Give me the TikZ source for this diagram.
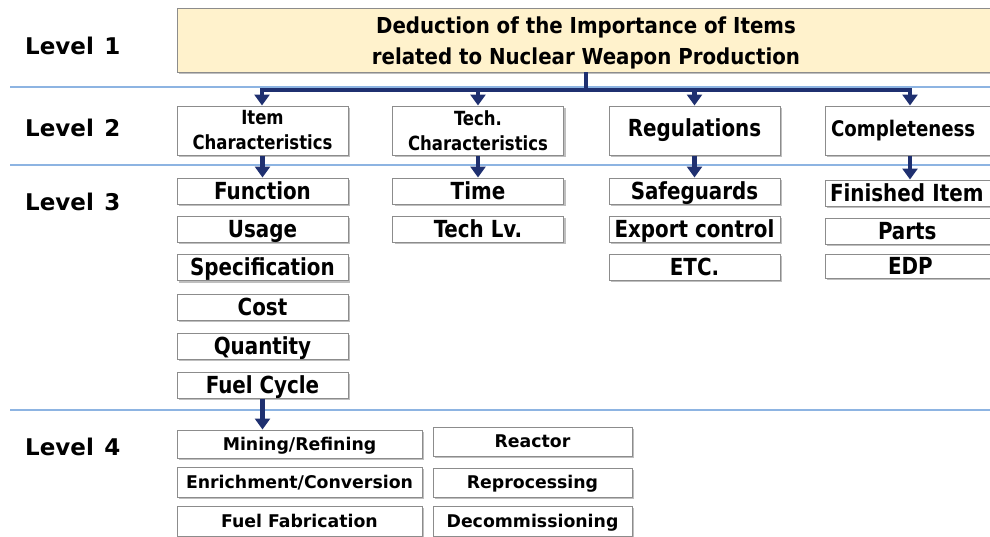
\documentclass[tikz,border=0pt]{standalone}
\usepackage{fontspec}
\usepackage{graphicx}
\setmainfont{DejaVu Sans}
\newfontfamily\cf{DejaVu Sans Condensed}
\newfontfamily\lf{DejaVu Sans}
\usetikzlibrary{arrows.meta,shadows}
\definecolor{navy}{HTML}{1F3070}
\definecolor{sep}{HTML}{8DB4E2}
\definecolor{peach}{HTML}{FFF2CC}
\definecolor{bord}{HTML}{8C8C8C}
\newcommand\nx[1]{\scalebox{0.94}[1]{#1}}
\newcommand\wx[1]{\scalebox{1.1}[1]{#1}}
\tikzset{
  box/.style={draw=bord, line width=1pt, fill=white, inner sep=0pt, align=center,
    drop shadow={shadow xshift=2pt, shadow yshift=-2pt, fill=black!25, opacity=1}, font=\cf\bfseries},
  wA/.style={minimum width=171pt},
  hS/.style={minimum height=26pt},
  hL/.style={minimum height=49pt},
  lvl/.style={font=\lf\bfseries\fontsize{23}{26}\selectfont, anchor=west, inner sep=0pt},
  t3/.style={font=\cf\bfseries\fontsize{23.5}{24}\selectfont, text height=17.5pt, text depth=1.5pt},
  t4/.style={font=\cf\bfseries\fontsize{17.5}{21}\selectfont, text height=13pt, text depth=1pt},
  arr/.style={draw=navy, line width=4.5pt, -{Triangle[width=15pt,length=11pt]}},
  bus/.style={draw=navy, line width=4.5pt},
  sepl/.style={draw=sep, line width=1.2pt}
}
\begin{document}
\begin{tikzpicture}[x=1pt,y=-1pt]
\useasboundingbox (0,0) rectangle (990,536);
\clip (0,0) rectangle (990,536);
% separators
\coordinate (s1a) at (10,87); \coordinate (s1b) at (990,87);
\coordinate (s2a) at (10,165); \coordinate (s2b) at (990,165);
\coordinate (s3a) at (10,410); \coordinate (s3b) at (990,410);
\draw[sepl] (s1a) -- (s1b);
\draw[sepl] (s2a) -- (s2b);
\draw[sepl] (s3a) -- (s3b);
% level labels
\node[lvl] (lv1) at (25,46) {Level\hspace{0.45em}1};
\node[lvl] (lv2) at (25,128) {Level\hspace{0.45em}2};
\node[lvl] (lv3) at (25,202) {Level\hspace{0.45em}3};
\node[lvl] (lv4) at (25,447) {Level\hspace{0.45em}4};
% level 1
\node[box, fill=peach, minimum width=830pt, minimum height=64pt] (L1) at (592,40) {};
\node[font=\cf\bfseries\fontsize{22}{31}\selectfont, align=center, inner sep=0pt] (L1t) at (586,42.5) {Deduction of the Importance of Items\\related to Nuclear Weapon Production};
% level 2
\node[box, wA, hL, font=\cf\bfseries\fontsize{19.5}{25}\selectfont] (A) at (262.5,130.5) {\nx{Item}\\\nx{Characteristics}};
\node[box, wA, hL, font=\cf\bfseries\fontsize{19.5}{25}\selectfont] (B) at (478,130.5) {\nx{Tech.}\\\nx{Characteristics}};
\node[box, wA, hL, font=\cf\bfseries\fontsize{23.5}{25}\selectfont] (C) at (694.5,130.5) {\nx{Regulations}};
\node[box, minimum width=175pt, hL, font=\cf\bfseries\fontsize{21.5}{24}\selectfont, text width=175pt, align=left] (D) at (912.5,130.5) {\hspace*{6pt}\nx{Completeness}};
% bus
\coordinate (t0) at (586,72);
\coordinate (t1) at (586,90);
\coordinate (b1) at (262,90);
\coordinate (b4) at (910,90);
\draw[bus] (t0) -- (t1);
\draw[bus] ([xshift=-2.25pt]b1) -- ([xshift=2.25pt]b4);
\draw[arr] (b1) -- (b1|-A.north);
\draw[arr] (b1-|B) -- (B.north);
\draw[arr] (b1-|C) -- (C.north);
\draw[arr] (b4) -- (b4|-D.north);
% level 3 col A
\node[box, wA, hS, t3] (A1) at (262.5,191) {\nx{Function}};
\node[box, wA, hS, t3] (A2) at (262.5,229) {\nx{Usage}};
\node[box, wA, hS, t3] (A3) at (262.5,267.5) {\nx{Specification}};
\node[box, wA, hS, t3] (A4) at (262.5,307) {\nx{Cost}};
\node[box, wA, hS, t3] (A5) at (262.5,346) {\nx{Quantity}};
\node[box, wA, hS, t3] (A6) at (262.5,385) {\nx{Fuel Cycle}};
% col B
\node[box, wA, hS, t3] (B1) at (478,191) {\nx{Time}};
\node[box, wA, hS, t3] (B2) at (478,229) {\nx{Tech Lv.}};
% col C
\node[box, wA, hS, t3] (C1) at (694.5,191) {\nx{Safeguards}};
\node[box, wA, hS, t3] (C2) at (694.5,229) {\nx{Export control}};
\node[box, wA, hS, t3] (C3) at (694.5,267) {\nx{ETC.}};
% col D
\node[box, minimum width=175pt, hS, t3, text width=175pt, align=left] (D1) at (912.5,193) {\hspace*{5pt}\nx{Finished Item}};
\node[box, minimum width=175pt, hS, t3, text width=175pt, align=left] (D2) at (912.5,231) {\hspace*{53pt}\nx{Parts}};
\node[box, minimum width=175pt, minimum height=24pt, t3, text width=175pt, align=left] (D3) at (912.5,266) {\hspace*{63pt}\nx{EDP}};
% arrows L2 -> L3
\draw[arr] (A.south) -- (A1.north);
\draw[arr] (B.south) -- (B1.north);
\draw[arr] (C.south) -- (C1.north);
\draw[arr] (D.south-|b4) -- (D1.north-|b4);
% level 4
\node[box, minimum width=245pt, minimum height=28pt, t4] (M1) at (299.5,444) {\wx{Mining/Refining}};
\node[box, minimum width=245pt, minimum height=30pt, t4] (M2) at (299.5,482) {\wx{Enrichment/Conversion}};
\node[box, minimum width=245pt, minimum height=30pt, t4] (M3) at (299.5,521) {\wx{Fuel Fabrication}};
\node[box, minimum width=199pt, minimum height=29pt, t4] (R1) at (532.5,441.5) {\wx{Reactor}};
\node[box, minimum width=199pt, minimum height=29pt, t4] (R2) at (532.5,482.5) {\wx{Reprocessing}};
\node[box, minimum width=199pt, minimum height=30pt, t4] (R3) at (532.5,521) {\wx{Decommissioning}};
\draw[arr] (A6.south) -- (A6.south|-M1.north);
\end{tikzpicture}
\end{document}
